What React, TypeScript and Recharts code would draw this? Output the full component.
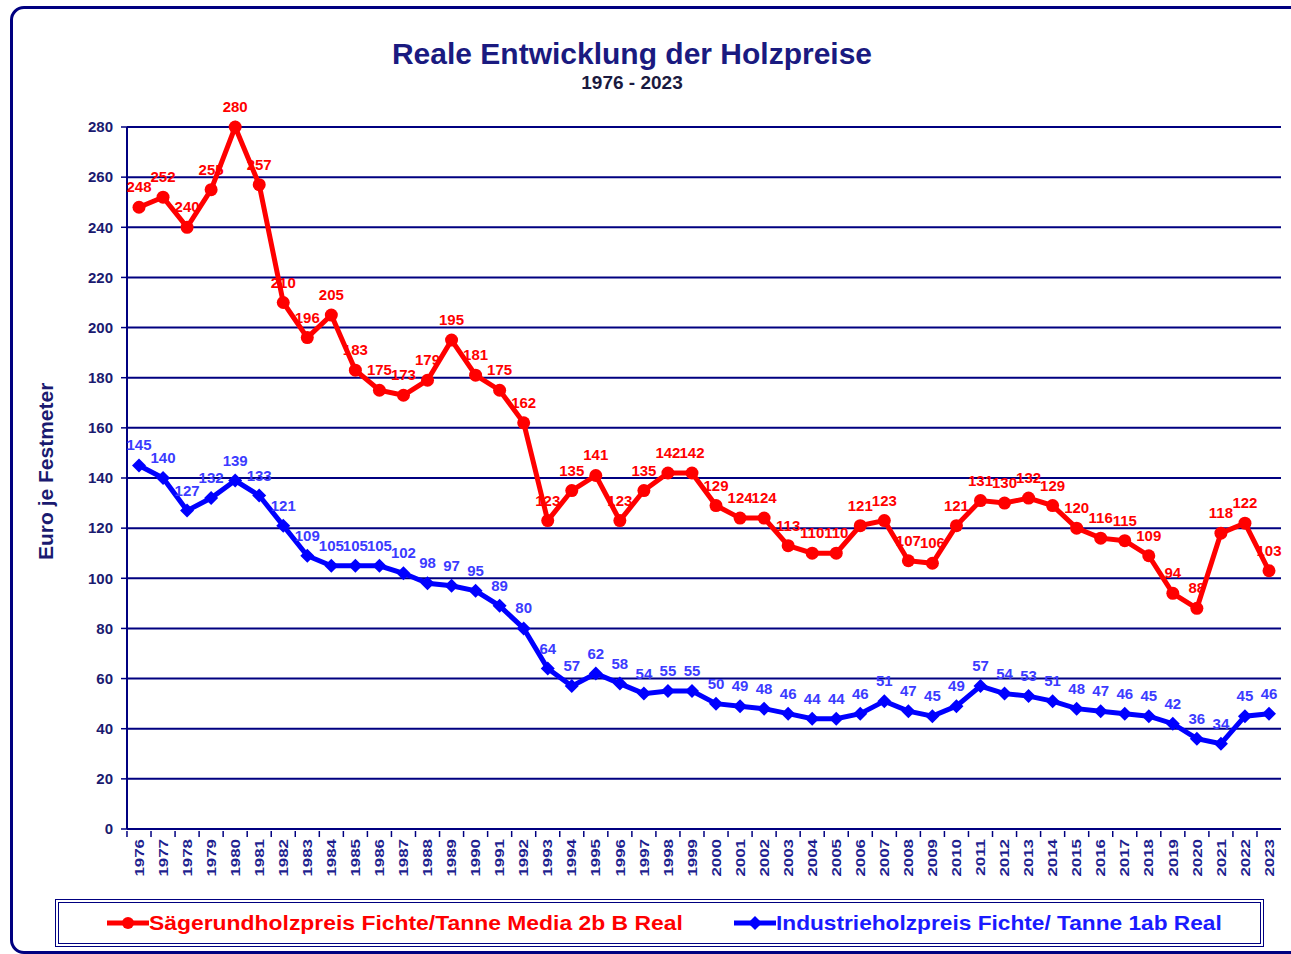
import React from 'react';
import { LineChart, Line, XAxis, YAxis, CartesianGrid, LabelList } from 'recharts';

const years = ['1976','1977','1978','1979','1980','1981','1982','1983','1984','1985','1986','1987','1988','1989','1990','1991','1992','1993','1994','1995','1996','1997','1998','1999','2000','2001','2002','2003','2004','2005','2006','2007','2008','2009','2010','2011','2012','2013','2014','2015','2016','2017','2018','2019','2020','2021','2022','2023'];

const saegerund = [248,252,240,255,280,257,210,196,205,183,175,173,179,195,181,175,162,123,135,141,123,135,142,142,129,124,124,113,110,110,121,123,107,106,121,131,130,132,129,120,116,115,109,94,88,118,122,103];

const industrie = [145,140,127,132,139,133,121,109,105,105,105,102,98,97,95,89,80,64,57,62,58,54,55,55,50,49,48,46,44,44,46,51,47,45,49,57,54,53,51,48,47,46,45,42,36,34,45,46];

const yTicks = [0,20,40,60,80,100,120,140,160,180,200,220,240,260,280];

const title = 'Reale Entwicklung der Holzpreise';
const subtitle = '1976 - 2023';
const yLabel = 'Euro je Festmeter';
const seriesRed = 'Sägerundholzpreis Fichte/Tanne Media 2b B Real';
const seriesBlue = 'Industrieholzpreis Fichte/ Tanne 1ab Real';

const data = years.map((y, i) => ({ year: y, saeg: saegerund[i], ind: industrie[i] }));

const NAVY = '#000080';
const FONT = 'Arial, "Liberation Sans", sans-serif';

const RedDot = (props: any) => {
  const { cx, cy } = props;
  if (cx == null || cy == null) return null;
  return <circle cx={cx} cy={cy} r={6.5} fill="#ff0000" />;
};

const BlueDot = (props: any) => {
  const { cx, cy } = props;
  if (cx == null || cy == null) return null;
  const s = 7;
  return <polygon points={`${cx},${cy - s} ${cx + s},${cy} ${cx},${cy + s} ${cx - s},${cy}`} fill="#0000ff" />;
};

const XTick = (props: any) => {
  const { x, y, payload } = props;
  const half = 12.02;
  return (
    <g>
      <line x1={x - half} y1={y - 6} x2={x - half} y2={y} stroke={NAVY} strokeWidth={1.5} />
      <text
        transform={`translate(${x},${y + 2}) rotate(-90) scale(1.3,1)`}
        textAnchor="end"
        dy="0.36em"
        fontFamily={FONT}
        fontWeight={700}
        fontSize={13}
        fill="#1f1f8f"
      >
        {payload.value}
      </text>
    </g>
  );
};

export default function App() {
  return (
    <div style={{ position: 'absolute', left: 0, top: 0, width: 1291, height: 954, overflow: 'hidden', background: '#fff' }}>
      <div style={{ position: 'absolute', left: 10, top: 6, width: 1300, height: 942, border: `3px solid ${NAVY}`, borderRadius: 14 }} />
      <div style={{ position: 'absolute', left: 0, width: 1264, top: 37, textAlign: 'center', fontFamily: FONT, fontWeight: 700, fontSize: 30, color: '#1a1a80' }}>
        {title}
      </div>
      <div style={{ position: 'absolute', left: 0, width: 1264, top: 72, textAlign: 'center', fontFamily: FONT, fontWeight: 700, fontSize: 19, color: '#1a1a40' }}>
        {subtitle}
      </div>
      <div style={{ position: 'absolute', left: 0, top: 0 }}>
        <LineChart width={1291} height={954} data={data} margin={{ top: 127, right: 10, bottom: 76, left: 67 }}>
          <CartesianGrid horizontal vertical={false} stroke={NAVY} strokeWidth={2} strokeOpacity={1} />
          <XAxis
            dataKey="year"
            interval={0}
            padding={{ left: 12, right: 12 }}
            axisLine={{ stroke: NAVY, strokeWidth: 2 }}
            tickLine={false}
            tick={<XTick />}
            height={49}
          />
          <YAxis
            domain={[0, 280]}
            ticks={yTicks}
            interval={0}
            width={60}
            axisLine={{ stroke: NAVY, strokeWidth: 2 }}
            tickLine={{ stroke: NAVY, strokeWidth: 1.5 }}
            tickSize={6}
            tickMargin={8}
            tick={{ fill: '#1a1a70', fontFamily: FONT, fontWeight: 700, fontSize: 15 }}
            label={{ value: yLabel, angle: -90, position: 'insideLeft', dx: -26, dy: 82, style: { fill: '#1a1a70', fontFamily: FONT, fontWeight: 700, fontSize: 21 } }}
          />
          <YAxis yAxisId="r" orientation="right" width={0} tick={false} tickLine={false} axisLine={{ stroke: NAVY, strokeWidth: 2 }} domain={[0, 280]} />
          <Line
            dataKey="saeg"
            stroke="#ff0000"
            strokeWidth={5}
            dot={<RedDot />}
            activeDot={false}
            isAnimationActive={false}
          >
            <LabelList dataKey="saeg" position="top" offset={15} fill="#ff0000" fontFamily={FONT} fontWeight={700} fontSize={15} />
          </Line>
          <Line
            dataKey="ind"
            stroke="#0000ff"
            strokeWidth={5}
            dot={<BlueDot />}
            activeDot={false}
            isAnimationActive={false}
          >
            <LabelList dataKey="ind" position="top" offset={15} fill="#3b3bff" fontFamily={FONT} fontWeight={700} fontSize={15} />
          </Line>
        </LineChart>
      </div>
      <div style={{ position: 'absolute', left: 55, top: 899, width: 1201, height: 40, border: `4px double ${NAVY}` }}>
        <div style={{ position: 'absolute', left: 48, top: 8, display: 'flex', alignItems: 'center' }}>
          <svg width={42} height={16} style={{ display: 'block' }}>
            <line x1={0} y1={8} x2={42} y2={8} stroke="#ff0000" strokeWidth={5} />
            <circle cx={21} cy={8} r={6} fill="#ff0000" />
          </svg>
          <span style={{ fontFamily: FONT, fontWeight: 700, fontSize: 21, color: '#ff0000', lineHeight: '24px', display: 'inline-block', transform: 'scaleX(1.09)', transformOrigin: 'left center', whiteSpace: 'nowrap' }}>{seriesRed}</span>
        </div>
        <div style={{ position: 'absolute', left: 675, top: 8, display: 'flex', alignItems: 'center' }}>
          <svg width={42} height={16} style={{ display: 'block' }}>
            <line x1={0} y1={8} x2={42} y2={8} stroke="#0000ff" strokeWidth={5} />
            <polygon points="21,1 28,8 21,15 14,8" fill="#0000ff" />
          </svg>
          <span style={{ fontFamily: FONT, fontWeight: 700, fontSize: 21, color: '#1a1aff', lineHeight: '24px', display: 'inline-block', transform: 'scaleX(1.08)', transformOrigin: 'left center', whiteSpace: 'nowrap' }}>{seriesBlue}</span>
        </div>
      </div>
    </div>
  );
}
